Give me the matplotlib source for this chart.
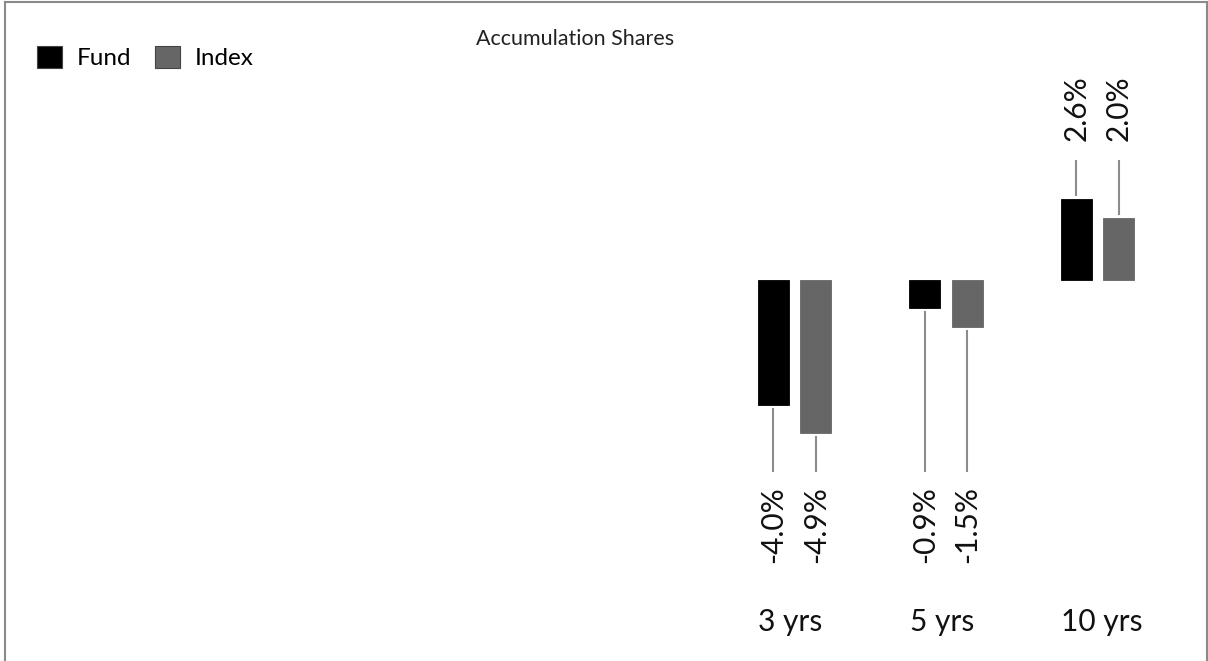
import matplotlib
matplotlib.use("Agg")
import numpy as np
import matplotlib.pyplot as plt
from matplotlib.patches import Patch
from matplotlib.lines import Line2D

plt.rcParams['font.family'] = ['Lato', 'DejaVu Sans']

# discrete performance, accumulation shares
periods = ["3 yrs", "5 yrs", "10 yrs"]
fund = [-4.0, -0.9, 2.6]
index = [-4.9, -1.5, 2.0]
series_names = ["Fund", "Index"]
colors = ["#000000", "#666666"]

fig = plt.figure(figsize=(12.08, 6.61), dpi=100)
ax = fig.add_axes([0, 0, 1, 1])
ax.set_axis_off()

# axis ranges chosen so the three groups sit on the right of the panel
px_per_unit_x = 151.5
px_per_pct = 31.2
ax.set_xlim(-794.5 / px_per_unit_x, (1208 - 794.5) / px_per_unit_x)
ax.set_ylim(-(661 - 280) / px_per_pct, 280 / px_per_pct)

x = np.arange(len(periods))
width = 0.205
offset = 0.14
gap = 4 / px_per_pct
neg_line_end = -6.12
pos_line_start = 3.81
neg_label_y = -6.6
pos_label_y = 4.45

for values, dx, col in [(fund, -offset, colors[0]), (index, offset, colors[1])]:
    xs = x + dx
    ax.bar(xs, values, width=width, color=col, edgecolor=col, linewidth=0.6)
    for xi, v in zip(xs, values):
        if v < 0:
            ax.plot([xi, xi], [v - gap, neg_line_end], color="#8c8c8c", lw=1.5)
            ax.text(xi, neg_label_y, f"{v:.1f}%", rotation=90, ha="center",
                    va="top", fontsize=21.5, color="#111111")
        else:
            ax.plot([xi, xi], [pos_line_start, v + gap], color="#8c8c8c", lw=1.5)
            ax.text(xi, pos_label_y, f"{v:.1f}%", rotation=90, ha="center",
                    va="bottom", fontsize=21.5, color="#111111")

for xi, name in zip(x, periods):
    ax.text(xi - 0.24, -11.25, name, ha="left", va="baseline",
            fontsize=21.5, color="#111111")

fig.text(575 / 1208, 1 - 45 / 661, "Accumulation Shares", ha="center",
         va="baseline", fontsize=15.5, color="#222222")

handles = [Patch(facecolor=c, edgecolor="#444444", linewidth=0.8) for c in colors]
fig.legend(handles, series_names, loc="upper left",
           bbox_to_anchor=(37 / 1208, 1 - 46 / 661), ncol=2, frameon=False,
           fontsize=17.5, handlelength=1.03, handleheight=1.03, handletextpad=0.6,
           columnspacing=1.0, borderpad=0, borderaxespad=0)

# panel border (left, top, right)
border = dict(color="#8a8a8a", lw=1.5, transform=fig.transFigure)
fig.add_artist(Line2D([4.5 / 1208, 4.5 / 1208], [0, 1 - 1.5 / 661], **border))
fig.add_artist(Line2D([4.5 / 1208, 1207 / 1208], [1 - 1.5 / 661, 1 - 1.5 / 661], **border))
fig.add_artist(Line2D([1207 / 1208, 1207 / 1208], [0, 1 - 1.5 / 661], **border))

fig.savefig("out.png", dpi=100)
